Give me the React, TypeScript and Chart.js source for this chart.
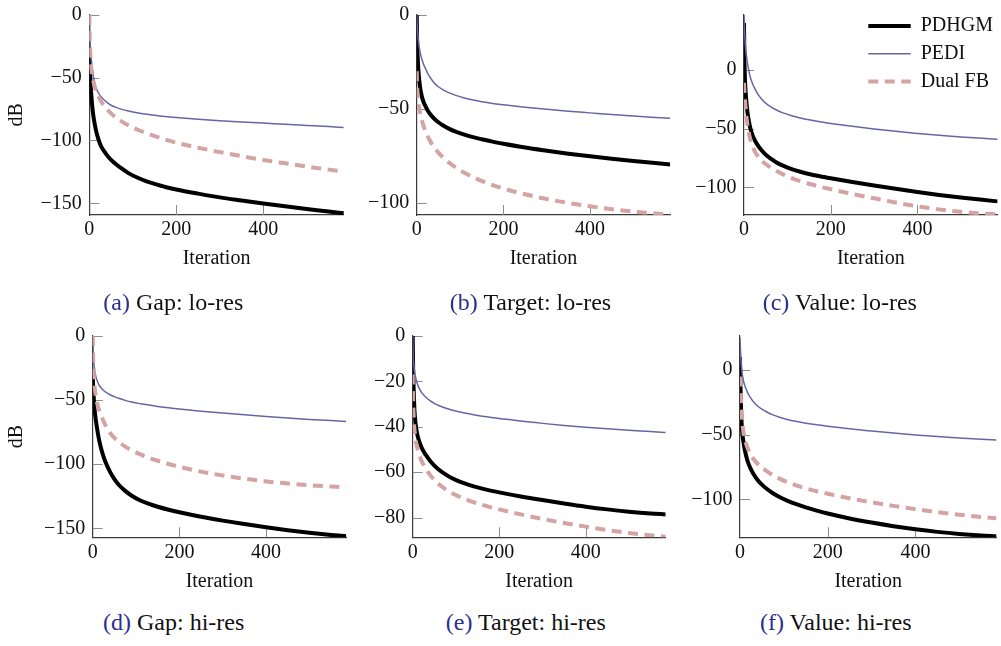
import React, { useEffect, useRef } from 'react';
import { Chart, registerables } from 'chart.js';

Chart.register(...registerables);

// ---------- data ----------
const iterations = [0, 1, 2, 3, 4, 6, 8, 10, 13, 16, 20, 25, 30, 40, 50, 60, 75, 90, 110, 130, 150, 175, 200, 250, 300, 350, 400, 450, 500, 550, 585];
const seriesNames = ['PDHGM', 'PEDI', 'Dual FB'];
const xTickValues = [0, 200, 400];

// (a) Gap: lo-res
const gapLoPDHGM = [-32, -42, -50, -56, -61, -70, -77, -82, -88, -93, -98, -103, -106.5, -111.5, -115.5, -118.5, -122.5, -126, -129.5, -132.3, -134.5, -137, -139, -142.3, -145.3, -147.8, -150.2, -152.4, -154.5, -156.5, -158];
const gapLoPEDI = [0, -14, -22, -28, -33, -40, -46, -50.5, -55, -58.5, -61.5, -64.5, -66.5, -69.5, -72, -73.5, -75.3, -76.6, -78, -79, -80, -81, -81.8, -83.2, -84.3, -85.3, -86.2, -87.2, -88.1, -89, -89.7];
const gapLoDualFB = [0, -18, -28, -36, -41, -47, -51, -54, -58, -61, -64, -67.5, -70.5, -75, -78.5, -81.5, -85, -88, -91.3, -94, -96.5, -99.3, -101.8, -105.8, -109.3, -112.5, -115.5, -118.2, -120.8, -123.2, -124.8];

// (b) Target: lo-res
const targetLoPDHGM = [0, -14, -21, -26, -30, -35, -39, -41.5, -44.5, -46.5, -48.5, -50.8, -52.5, -55.2, -57.2, -58.8, -60.7, -62.2, -63.8, -65.1, -66.2, -67.5, -68.6, -70.6, -72.3, -73.9, -75.3, -76.6, -77.8, -78.9, -79.6];
const targetLoPEDI = [0, -5, -8.5, -11.5, -14, -17.5, -20, -22, -24.5, -26.5, -28.5, -31, -33, -36.2, -38.3, -39.8, -41.6, -42.9, -44.3, -45.4, -46.3, -47.2, -47.9, -49.2, -50.3, -51.3, -52.2, -53.1, -53.9, -54.6, -55];
const targetLoDualFB = [-30, -38, -42, -45, -47, -50, -52.3, -54.3, -57, -59.3, -61.8, -64.5, -66.8, -70.5, -73.3, -75.7, -78.7, -81.2, -84, -86.4, -88.4, -90.6, -92.4, -95.5, -98, -100.1, -101.9, -103.4, -104.7, -105.7, -106.3];

// (c) Value: lo-res
const valueLoPDHGM = [40, 8, -6, -14, -20, -29, -36, -41, -47, -51.5, -56, -60, -63.2, -68.3, -72.2, -75.2, -78.8, -81.6, -84.5, -86.8, -88.7, -90.6, -92.3, -95.5, -98.5, -101.3, -104, -106.5, -108.7, -110.7, -112];
const valueLoPEDI = [47, 36, 28, 22, 17.5, 11, 5.5, 1.5, -4, -8, -12, -16, -19.5, -24.5, -28.3, -31, -34.2, -36.6, -39, -40.9, -42.5, -44.2, -45.6, -48.1, -50.3, -52.3, -54.1, -55.7, -57.1, -58.3, -59];
const valueLoDualFB = [-11, -18, -24, -29, -33, -41, -47, -51.5, -57, -61, -65.5, -69.5, -72.5, -77, -80.2, -82.8, -86.2, -89, -92.2, -94.8, -97, -99.5, -101.6, -105.7, -109.4, -113, -116.2, -118.8, -120.9, -122.3, -123];

// (d) Gap: hi-res
const gapHiPDHGM = [-30, -39, -46, -51.5, -56, -62.5, -67.5, -72, -78, -83, -88.5, -94, -98.7, -106, -111.6, -116, -120.8, -124.6, -128.3, -131, -133.2, -135.5, -137.5, -141, -144, -146.7, -149.2, -151.5, -153.5, -155.2, -156.2];
const gapHiPEDI = [0, -12, -18.5, -22.5, -25.5, -29.5, -32.5, -34.5, -37, -39, -40.8, -42.5, -43.8, -45.8, -47.3, -48.6, -50.2, -51.5, -52.8, -53.9, -54.9, -56, -56.9, -58.6, -60.1, -61.5, -62.8, -64, -65.1, -66, -66.6];
const gapHiDualFB = [0, -16, -26, -33, -38, -44, -48.5, -52, -56, -59, -62.5, -66.5, -70, -75.5, -79.5, -82.5, -86.3, -89.2, -92.3, -95, -97.3, -99.8, -102, -105.8, -108.8, -111.3, -113.4, -115.1, -116.4, -117.4, -118];

// (e) Target: hi-res
const targetHiPDHGM = [0, -14, -22, -28, -32.5, -37.5, -40.5, -42.8, -45.2, -47, -48.9, -50.8, -52.3, -55, -57.1, -58.8, -60.9, -62.6, -64.3, -65.6, -66.7, -67.9, -68.9, -70.7, -72.3, -73.8, -75.2, -76.4, -77.4, -78.2, -78.6];
const targetHiPEDI = [0, -8, -11.5, -13.5, -15.2, -17.6, -19.3, -20.6, -22.2, -23.4, -24.7, -25.9, -26.9, -28.5, -29.7, -30.6, -31.7, -32.6, -33.5, -34.3, -35, -35.7, -36.3, -37.5, -38.5, -39.4, -40.2, -40.9, -41.5, -42.1, -42.5];
const targetHiDualFB = [-17, -28, -34, -38, -41, -44.5, -47, -48.8, -51, -52.8, -54.8, -56.8, -58.4, -61.2, -63.4, -65.2, -67.4, -69.2, -71, -72.5, -73.8, -75.2, -76.4, -78.6, -80.6, -82.4, -84, -85.5, -86.8, -87.8, -88.4];

// (f) Value: hi-res
const valueHiPDHGM = [10, -12, -26, -36, -43, -51, -56, -60, -65, -69, -73, -76.8, -80, -85, -88.7, -91.7, -95.3, -98.2, -101.4, -104, -106.3, -108.8, -111, -114.8, -118, -120.8, -123.2, -125.2, -126.8, -128, -128.6];
const valueHiPEDI = [25, 16, 9.5, 4, 0, -5, -8.5, -11, -14, -16.5, -19.3, -22, -24.3, -27.8, -30.3, -32.3, -34.7, -36.5, -38.4, -39.9, -41.1, -42.4, -43.5, -45.5, -47.2, -48.8, -50.2, -51.5, -52.6, -53.6, -54.2];
const valueHiDualFB = [-5, -14, -22, -29, -35, -43, -48.5, -52, -56, -59, -62.5, -66, -68.5, -72.5, -75.5, -78, -81.3, -84, -87, -89.5, -91.5, -93.8, -95.7, -99.2, -102.3, -105.1, -107.6, -109.9, -111.9, -113.7, -114.7];

// ---------- styling / layout ----------
const FONT = '"Liberation Serif", "DejaVu Serif", serif';
const TEXT = '#111111';
const seriesStyles = [
  { color: '#000000', width: 4, dash: [] as number[], order: 3 },
  { color: '#6666a6', width: 1.5, dash: [] as number[], order: 2 },
  { color: '#d4a3a3', width: 4, dash: [10, 6.5], order: 1 },
];

type Panel = {
  letter: string;
  caption: string;
  series: number[][];
  yMin: number;
  yMax: number;
  yStep: number;
  showDB: boolean;
  legend: boolean;
  region: { left: number; top: number; w: number; h: number };
  area: { l: number; t: number; r: number; b: number };
  xTitlePad: number;
  capX: number;
  capTop: number;
};

const panels: Panel[] = [
  { letter: 'a', caption: 'Gap: lo-res', series: [gapLoPDHGM, gapLoPEDI, gapLoDualFB], yMin: -159.3, yMax: 0, yStep: 50, showDB: true, legend: false,
    region: { left: 0, top: -10, w: 350, h: 285 }, area: { l: 89.3, t: 14.7, r: 343.8, b: 215 }, xTitlePad: 4.6, capX: 173.3, capTop: 290 },
  { letter: 'b', caption: 'Target: lo-res', series: [targetLoPDHGM, targetLoPEDI, targetLoDualFB], yMin: -106.5, yMax: 0, yStep: 50, showDB: false, legend: false,
    region: { left: 350, top: -10, w: 330, h: 285 }, area: { l: 416.7, t: 14.7, r: 670.3, b: 215 }, xTitlePad: 4.6, capX: 530.5, capTop: 290 },
  { letter: 'c', caption: 'Value: lo-res', series: [valueLoPDHGM, valueLoPEDI, valueLoDualFB], yMin: -123.6, yMax: 47, yStep: 50, showDB: false, legend: true,
    region: { left: 680, top: -10, w: 321, h: 285 }, area: { l: 744, t: 14.7, r: 997.6, b: 215 }, xTitlePad: 4.6, capX: 839.8, capTop: 290 },
  { letter: 'd', caption: 'Gap: hi-res', series: [gapHiPDHGM, gapHiPEDI, gapHiDualFB], yMin: -157, yMax: 0, yStep: 50, showDB: true, legend: false,
    region: { left: 0, top: 312, w: 350, h: 285 }, area: { l: 92.7, t: 336, r: 346.3, b: 537.3 }, xTitlePad: 3.3, capX: 173.7, capTop: 610.4 },
  { letter: 'e', caption: 'Target: hi-res', series: [targetHiPDHGM, targetHiPEDI, targetHiDualFB], yMin: -88.7, yMax: 0, yStep: 20, showDB: false, legend: false,
    region: { left: 350, top: 312, w: 330, h: 285 }, area: { l: 412.7, t: 336, r: 665.7, b: 537.3 }, xTitlePad: 3.3, capX: 525.8, capTop: 610.4 },
  { letter: 'f', caption: 'Value: hi-res', series: [valueHiPDHGM, valueHiPEDI, valueHiDualFB], yMin: -129.4, yMax: 26.3, yStep: 50, showDB: false, legend: false,
    region: { left: 680, top: 312, w: 321, h: 285 }, area: { l: 740, t: 336, r: 996.5, b: 537.3 }, xTitlePad: 3.3, capX: 835.8, capTop: 610.4 },
];

const fmt = (v: number | string) => {
  const n = Number(v);
  return n < 0 ? '\u2212' + Math.abs(n) : String(n);
};

// inward tick marks (pgfplots style)
const inwardTicks = {
  id: 'inwardTicks',
  beforeDatasetsDraw(chart: any) {
    const { ctx, chartArea, scales } = chart;
    ctx.save();
    ctx.strokeStyle = '#8c8c8c';
    ctx.lineWidth = 1;
    ctx.beginPath();
    scales.x.ticks.forEach((t: any) => {
      const p = Math.round(scales.x.getPixelForValue(t.value)) + 0.5;
      if (p - chartArea.left < 2) return;
      ctx.moveTo(p, chartArea.bottom);
      ctx.lineTo(p, chartArea.bottom - 10);
    });
    scales.y.ticks.forEach((t: any) => {
      const p = Math.round(scales.y.getPixelForValue(t.value)) + 0.5;
      ctx.moveTo(chartArea.left, p);
      ctx.lineTo(chartArea.left + 10, p);
    });
    ctx.stroke();
    ctx.restore();
  },
};

// legend placed inside the plot area, top-right
const insideLegend = {
  id: 'insideLegend',
  afterDraw(chart: any, _args: any, opts: any) {
    if (!opts || !opts.display) return;
    const { ctx, chartArea } = chart;
    chart.data.datasets.forEach((ds: any, i: number) => {
      const y = chartArea.top + 11.3 + i * 27.8;
      ctx.save();
      ctx.strokeStyle = ds.borderColor;
      ctx.lineWidth = ds.borderWidth;
      ctx.setLineDash(ds.borderDash || []);
      ctx.beginPath();
      ctx.moveTo(chartArea.right - 129.3, y);
      ctx.lineTo(chartArea.right - 86.9, y);
      ctx.stroke();
      ctx.setLineDash([]);
      ctx.fillStyle = TEXT;
      ctx.font = `20px ${FONT}`;
      ctx.textAlign = 'left';
      ctx.textBaseline = 'middle';
      ctx.fillText(ds.label, chartArea.right - 76.9, y);
      ctx.restore();
    });
  },
};

function PanelChart({ p }: { p: Panel }) {
  const ref = useRef<HTMLCanvasElement | null>(null);
  useEffect(() => {
    if (!ref.current) return;
    const W = p.area.l - p.region.left;
    const padTop = p.area.t - p.region.top;
    const padRight = p.region.left + p.region.w - p.area.r;
    const H = p.region.top + p.region.h - p.area.b;
    const datasets = p.series.map((vals, si) => ({
      label: seriesNames[si],
      data: iterations.map((x, i) => ({ x, y: vals[i] })),
      borderColor: seriesStyles[si].color,
      borderWidth: seriesStyles[si].width,
      borderDash: seriesStyles[si].dash,
      order: seriesStyles[si].order,
      pointRadius: 0,
      fill: false,
      cubicInterpolationMode: 'monotone' as const,
      borderCapStyle: 'butt' as const,
      borderJoinStyle: 'round' as const,
    }));
    const chart = new Chart(ref.current, {
      type: 'line',
      data: { datasets },
      options: {
        animation: false,
        responsive: false,
        events: [],
        layout: { padding: { left: 0, top: padTop, right: padRight, bottom: 0 } },
        plugins: {
          legend: { display: false },
          tooltip: { enabled: false },
          insideLegend: { display: p.legend },
        } as any,
        scales: {
          x: {
            type: 'linear',
            min: 0,
            max: 585,
            grid: { display: false, drawTicks: false },
            border: { display: true, color: '#3a3a3a', width: 1.2 },
            afterBuildTicks: (s: any) => {
              s.ticks = xTickValues.map((v) => ({ value: v }));
            },
            ticks: {
              padding: 3,
              color: TEXT,
              font: { family: FONT, size: 20 },
              maxRotation: 0,
              autoSkip: false,
              callback: (v: any) => fmt(v),
            },
            title: {
              display: true,
              text: 'Iteration',
              color: TEXT,
              font: { family: FONT, size: 20 },
              padding: { top: 0, bottom: p.xTitlePad },
            },
            afterFit: (s: any) => {
              s.height = H;
              s.paddingLeft = 0;
              s.paddingRight = 0;
            },
          },
          y: {
            type: 'linear',
            min: p.yMin,
            max: p.yMax,
            grid: { display: false, drawTicks: false },
            border: { display: true, color: '#3a3a3a', width: 1.2 },
            ticks: {
              stepSize: p.yStep,
              includeBounds: false,
              padding: 7.5,
              color: TEXT,
              font: { family: FONT, size: 20 },
              callback: (v: any) => fmt(v),
            },
            title: {
              display: p.showDB,
              text: 'dB',
              color: TEXT,
              font: { family: FONT, size: 20 },
              padding: { top: 5, bottom: 0 },
            },
            afterFit: (s: any) => {
              s.width = W;
              s.paddingTop = 0;
              s.paddingBottom = 0;
            },
          },
        },
      },
      plugins: [inwardTicks, insideLegend],
    });
    return () => chart.destroy();
  }, [p]);
  return (
    <div style={{ position: 'absolute', left: p.region.left, top: p.region.top, width: p.region.w, height: p.region.h }}>
      <canvas ref={ref} width={p.region.w} height={p.region.h} style={{ display: 'block' }} />
    </div>
  );
}

export default function App() {
  return (
    <div style={{ position: 'absolute', left: 0, top: 0, width: 1001, height: 646, overflow: 'hidden', background: '#ffffff' }}>
      {panels.map((p) => (
        <PanelChart key={p.letter} p={p} />
      ))}
      {panels.map((p) => (
        <div
          key={'cap-' + p.letter}
          style={{
            position: 'absolute',
            left: p.capX - 150,
            top: p.capTop,
            width: 300,
            textAlign: 'center',
            fontFamily: FONT,
            fontSize: 24,
            lineHeight: '24px',
            color: TEXT,
            whiteSpace: 'nowrap',
          }}
        >
          <span style={{ color: '#2e2e8e' }}>({p.letter})</span> {p.caption}
        </div>
      ))}
    </div>
  );
}
